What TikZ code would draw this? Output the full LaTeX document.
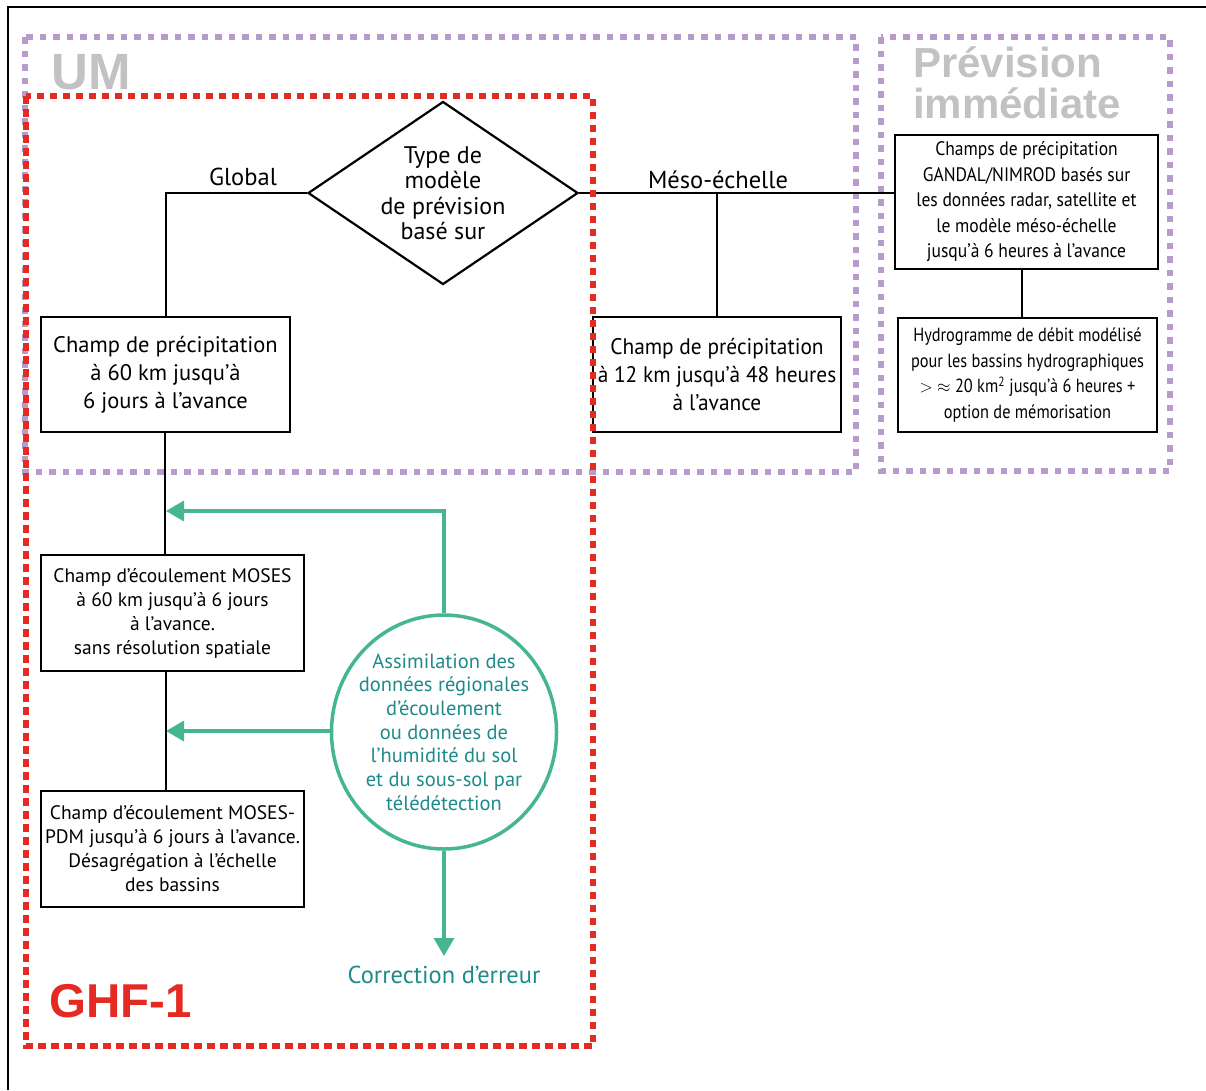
\documentclass[tikz,border=0pt]{standalone}
\usepackage{fontspec}
\setmainfont{PT Sans}
\newfontfamily\condfont[FakeStretch=0.86]{PT Sans}
\newfontfamily\semicondfont[FakeStretch=0.9]{PT Sans}
\newfontfamily\slightfont[FakeStretch=0.95]{PT Sans}
\newfontfamily\headfont{Liberation Sans}
\usetikzlibrary{shapes.geometric,arrows.meta}

\definecolor{umpurple}{HTML}{B79BCB}
\definecolor{ghfred}{HTML}{E52A24}
\definecolor{headgrey}{HTML}{C2C2C4}
\definecolor{tealline}{HTML}{45B592}
\definecolor{tealtext}{HTML}{1F8A8A}

\tikzset{
  purpdot/.style={draw=umpurple, line width=6pt, dash pattern=on 6.5pt off 7pt},
  reddot/.style={draw=ghfred, line width=6.5pt, dash pattern=on 7.5pt off 5.5pt},
  box/.style={draw, line width=2.2pt, align=center, inner sep=0pt},
  bigtext/.style={font=\fontsize{22.5}{28}\selectfont},
  widetext/.style={font=\slightfont\fontsize{22.5}{28}\selectfont},
  condtext/.style={font=\semicondfont\fontsize{19.5}{25.5}\selectfont},
  hydtext/.style={font=\condfont\fontsize{19}{25.5}\selectfont},
  midtext/.style={font=\fontsize{19.5}{24}\selectfont},
  conn/.style={draw, line width=2pt},
  lbl/.style={font=\fontsize{24.5}{28}\selectfont, inner sep=0pt},
  feed/.style={draw=tealline, line width=3.5pt,
    -{Triangle[length=18pt,width=20pt,fill=tealline]}},
  headtxt/.style={font=\headfont\bfseries, text=headgrey, inner sep=0pt}
}

\begin{document}
\begin{tikzpicture}[x=1pt,y=-1pt]
\useasboundingbox (0,0) rectangle (1206,1090);

% outer frame (left and top edges)
\draw[line width=1.5pt] (8,1090) -- (8,7) -- (1206,7);

% model regions
\draw[purpdot] (25,37) rectangle (856,472);
\draw[purpdot] (881,37) rectangle (1170,471);

\node[headtxt, font=\headfont\bfseries\fontsize{51}{51}\selectfont, anchor=west] (um) at (51,72) {UM};
\node[headtxt, font=\headfont\bfseries\fontsize{42}{42}\selectfont, anchor=north west, align=left]
  (nowcast) at (913,46) {Prévision\\[-1pt]immédiate};

% decision
\node[diamond, draw, line width=2.2pt, minimum width=270pt, minimum height=183pt,
      aspect=1.475, inner sep=0pt, align=center, font=\fontsize{24}{25.5}\selectfont]
  (type) at (443,193) {Type de\\modèle\\de prévision\\basé sur};

% boxes
\node[box, bigtext, minimum width=249pt, minimum height=115pt] (box1) at (165.5,374.5)
  {Champ de précipitation\\à 60 km jusqu’à\\6 jours à l’avance};
\node[box, widetext, minimum width=248pt, minimum height=115pt] (box2) at (717,374.5)
  {Champ de précipitation\\à 12 km jusqu’à 48 heures\\à l’avance};
\node[box, condtext, minimum width=263pt, minimum height=134pt] (box3) at (1026.5,202)
  {Champs de précipitation\\GANDAL/NIMROD basés sur\\les données radar, satellite et\\le modèle méso-échelle\\jusqu’à 6 heures à l’avance};
\node[box, hydtext, minimum width=259pt, minimum height=114pt] (box4) at (1027.5,375)
  {Hydrogramme de débit modélisé\\pour les bassins hydrographiques\\$>$ $\approx$ 20 km\textsuperscript{2} jusqu’à 6 heures +\\option de mémorisation};
\node[box, midtext, minimum width=263pt, minimum height=116pt] (box5) at (172.5,613)
  {Champ d’écoulement MOSES\\à 60 km jusqu’à 6 jours\\à l’avance.\\sans résolution spatiale};
\node[box, midtext, minimum width=263pt, minimum height=116pt] (box6) at (172.5,849)
  {Champ d’écoulement MOSES-\\PDM jusqu’à 6 jours à l’avance.\\Désagrégation à l’échelle\\des bassins};

% branch labels
\node[lbl] (glob) at (243,177) {Global};
\node[lbl] (meso) at (718,180) {Méso-échelle};

% connectors
\draw[conn] (type.west) -- (type.west -| box1.north) -- (box1.north);
\draw[conn] (type.east) -- (type.east -| box3.west);
\draw[conn] (box2.north) -- (box2.north |- type.east);
\draw[conn] ([xshift=-5pt]box3.south) -- ([xshift=-6pt]box4.north);
\draw[conn] ([xshift=-1pt]box1.south) -- ([xshift=-1pt]box1.south |- box5.north);
\draw[conn] ([xshift=-7pt]box5.south) -- ([xshift=-7pt]box5.south |- box6.north);

% data assimilation
\node[ellipse, draw=tealline, line width=3.5pt, minimum width=225pt, minimum height=234pt,
      inner sep=-9pt, align=center, text=tealtext, font=\fontsize{20.5}{23.7}\selectfont]
  (assim) at (444,732)
  {Assimilation des\\données régionales\\d’écoulement\\ou données de\\l’humidité du sol\\et du sous-sol par\\télédétection};
\node[lbl, text=tealtext, anchor=north, inner sep=0pt] (corr) at (444,966) {Correction d’erreur};

\coordinate (in1) at (166,511);
\coordinate (in2) at (166,731);
\draw[feed] (assim.north) |- (in1);
\draw[feed] (assim.west |- in2) -- (in2);
\draw[feed] (assim.south) -- ([yshift=10pt]corr.north);

% ensemble region
\draw[reddot] (26,96) rectangle (593,1046);
\node[font=\headfont\bfseries\fontsize{47.5}{47.5}\selectfont, text=ghfred, anchor=west, inner sep=0pt]
  (ghf) at (49,1001) {GHF-1};
\end{tikzpicture}
\end{document}
